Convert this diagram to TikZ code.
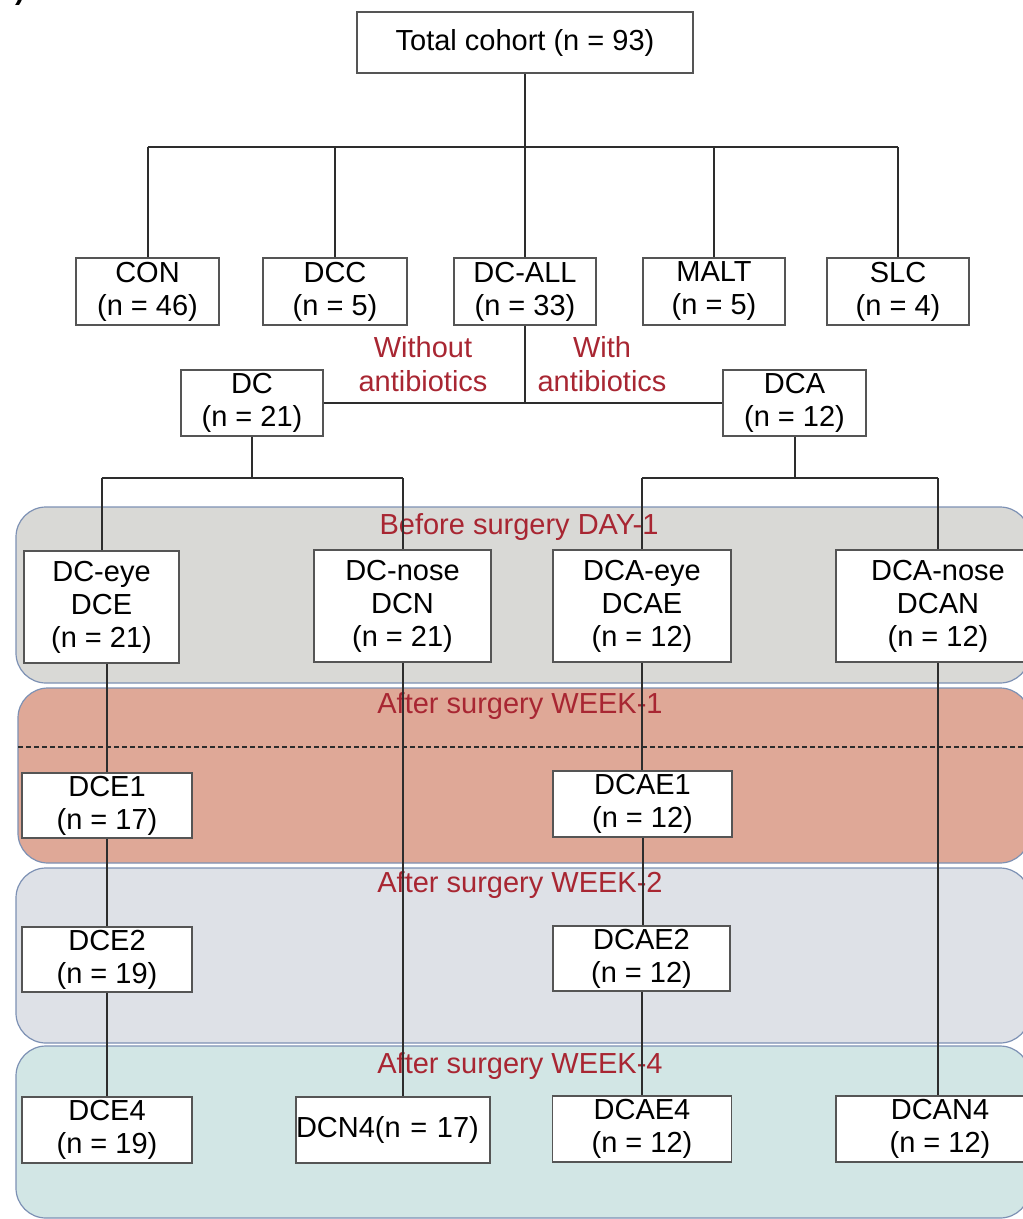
\documentclass[tikz,border=0pt]{standalone}
\usepackage{fontspec}
\setmainfont{Liberation Sans}
\usetikzlibrary{calc}

\definecolor{rojo}{RGB}{168,38,50}
\definecolor{linea}{RGB}{45,45,45}
\definecolor{bordecaja}{RGB}{85,85,85}
\definecolor{bordebanda}{RGB}{125,145,180}
\definecolor{fondoA}{RGB}{217,217,214}
\definecolor{fondoB}{RGB}{223,168,151}
\definecolor{fondoC}{RGB}{222,225,231}
\definecolor{fondoD}{RGB}{210,230,229}

\tikzset{
  caja/.style={draw=bordecaja, line width=1.6pt, fill=white, align=center,
    inner sep=0pt, font=\fontsize{29}{33}\selectfont},
  banda/.style={draw=bordebanda, line width=1.2pt, rounded corners=30pt},
  rama/.style={draw=linea, line width=2pt},
  etiqueta/.style={text=rojo, align=center, inner sep=0pt,
    font=\fontsize{29}{34}\selectfont},
}

\begin{document}
\begin{tikzpicture}[x=1pt, y=-1pt]
        % Marco de la figura
        \useasboundingbox (0,0) rectangle (1023,1219);
        \clip (0,0) rectangle (1023,1219);

        % Bandas de tiempo
        \draw[banda, fill=fondoA] (16,507) rectangle (1030,683);
        \draw[banda, fill=fondoB] (18,688) rectangle (1030,863);
        \draw[banda, fill=fondoC] (16,868) rectangle (1030,1043);
        \draw[banda, fill=fondoD] (16,1046) rectangle (1030,1218);
        \draw[linea, line width=1.3pt, dash pattern=on 5pt off 3pt] (18,747) -- (1023,747);

        % Etiquetas de las bandas y de los grupos
        \node[etiqueta] (lbA) at (519,527) {Before surgery DAY-1};
        \node[etiqueta] (lbB) at (520,706) {After surgery WEEK-1};
        \node[etiqueta] (lbC) at (520,885) {After surgery WEEK-2};
        \node[etiqueta] (lbD) at (520,1066) {After surgery WEEK-4};
        \node[etiqueta] (sinab) at (423,364) {Without\\antibiotics};
        \node[etiqueta] (conab) at (602,364) {With\\antibiotics};
        \node[anchor=base west, inner sep=0pt, font=\bfseries\fontsize{29}{33}\selectfont] (panel) at (15,-1) {)};

        % Cohorte y grupos
        \node[caja, minimum width=336, minimum height=61] (total) at (525,42.5) {Total cohort (n = 93)};
        \node[caja, minimum width=143, minimum height=67] (con) at (147.5,291.5) {CON\\(n = 46)};
        \node[caja, minimum width=144, minimum height=67] (dcc) at (335,291.5) {DCC\\(n = 5)};
        \node[caja, minimum width=142, minimum height=67] (dcall) at (525,291.5) {DC-ALL\\(n = 33)};
        \node[caja, minimum width=142, minimum height=67] (malt) at (714,291.5) {MALT\\(n = 5)};
        \node[caja, minimum width=142, minimum height=67] (slc) at (898,291.5) {SLC\\(n = 4)};
        \node[caja, minimum width=142, minimum height=66] (dc) at (252,403) {DC\\(n = 21)};
        \node[caja, minimum width=143, minimum height=66] (dca) at (794.5,403) {DCA\\(n = 12)};

        % Muestras antes de la cirugia
        \node[caja, minimum width=155, minimum height=112] (dce) at (101.5,607) {DC-eye\\DCE\\(n = 21)};
        \node[caja, minimum width=177, minimum height=112] (dcn) at (402.5,606) {DC-nose\\DCN\\(n = 21)};
        \node[caja, minimum width=178, minimum height=112] (dcae) at (642,606) {DCA-eye\\DCAE\\(n = 12)};
        \node[caja, minimum width=204, minimum height=112] (dcan) at (938,606) {DCA-nose\\DCAN\\(n = 12)};

        % Seguimiento despues de la cirugia
        \node[caja, minimum width=170, minimum height=65] (dce1) at (107,805.5) {DCE1\\(n = 17)};
        \node[caja, minimum width=179, minimum height=66] (dcae1) at (642.5,804) {DCAE1\\(n = 12)};
        \node[caja, minimum width=170, minimum height=65] (dce2) at (107,959.5) {DCE2\\(n = 19)};
        \node[caja, minimum width=177, minimum height=65] (dcae2) at (641.5,958.5) {DCAE2\\(n = 12)};
        \node[caja, minimum width=170, minimum height=66] (dce4) at (107,1130) {DCE4\\(n = 19)};
        \node[caja, minimum width=194, minimum height=66, text width=194, align=left] (dcn4) at (393,1130) {DCN4(n = 17)};
        \node[caja, minimum width=179, minimum height=66] (dcae4) at (642,1129) {DCAE4\\(n = 12)};
        \node[caja, minimum width=208, minimum height=66] (dcan4) at (940,1129) {DCAN4\\(n = 12)};

        % Ramas del arbol
        \coordinate (nudoA) at (525,147);
        \draw[rama] (total.south) -- (nudoA);
        \draw[rama] (con.north |- nudoA) -- (slc.north |- nudoA);
        \foreach \g in {con,dcc,dcall,malt,slc}
            \draw[rama] (\g.north |- nudoA) -- (\g.north);

        \draw[rama] (dcall.south) -- (dcall.south |- dc.east);
        \draw[rama] (dc.east) -- (dca.west);

        \coordinate (nudoB) at (254,478);
        \draw[rama] (dc.south) -- (dc.south |- nudoB);
        \draw[rama] (dce.north |- nudoB) -- (dcn.north |- nudoB);
        \foreach \g in {dce,dcn}
            \draw[rama] (\g.north |- nudoB) -- (\g.north);

        \coordinate (nudoC) at (792,478);
        \draw[rama] (dca.south) -- (dca.south |- nudoC);
        \draw[rama] (dcae.north |- nudoC) -- (dcan.north |- nudoC);
        \foreach \g in {dcae,dcan}
            \draw[rama] (\g.north |- nudoC) -- (\g.north);

        % Lineas de seguimiento
        \draw[rama] (dce1.north |- dce.south) -- (dce1.north);
        \draw[rama] (dce1.south) -- (dce2.north);
        \draw[rama] (dce2.south) -- (dce4.north);
        \draw[rama] (dcn.south) -- (dcn.south |- dcn4.north);
        \draw[rama] (dcae.south) -- (dcae.south |- dcae1.north);
        \draw[rama] (dcae1.south) -- (dcae1.south |- dcae2.north);
        \draw[rama] (dcae2.south) -- (dcae2.south |- dcae4.north);
        \draw[rama] (dcan.south) -- (dcan.south |- dcan4.north);
    \end{tikzpicture}
\end{document}
